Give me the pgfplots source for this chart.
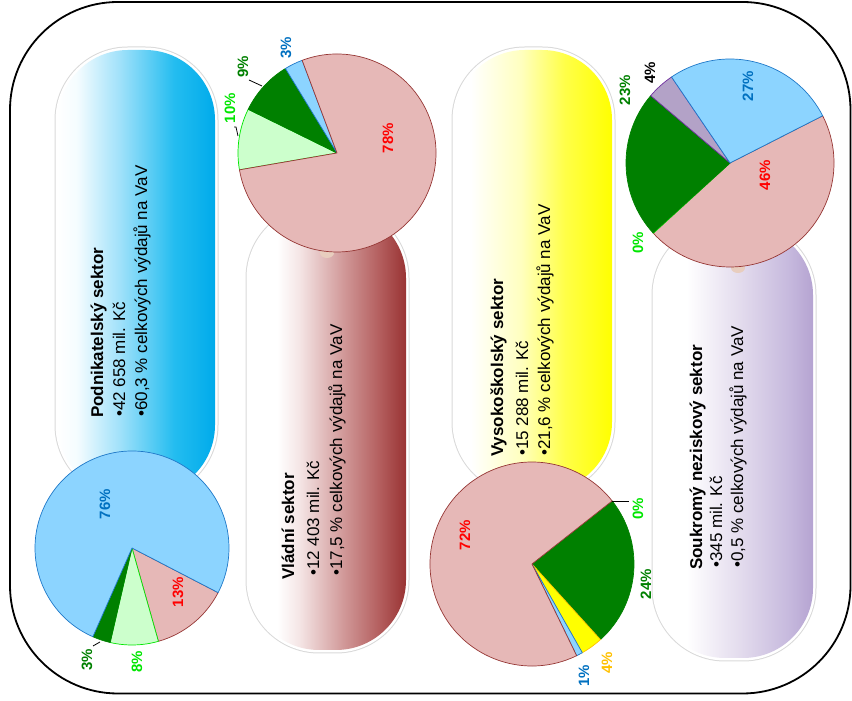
\documentclass[border=0pt]{standalone}
\usepackage{fontspec}
\setmainfont{Liberation Sans}
\usepackage{pgfplots}
\pgfplotsset{compat=1.18}

% slice colours
\definecolor{pinkF}{RGB}{230,184,183}
\definecolor{pinkE}{RGB}{150,55,53}
\definecolor{lgreenF}{RGB}{204,255,204}
\definecolor{lgreenE}{RGB}{0,230,0}
\definecolor{dgreenF}{RGB}{0,128,0}
\definecolor{lblueF}{RGB}{140,212,255}
\definecolor{lblueE}{RGB}{30,120,200}
\definecolor{yelF}{RGB}{255,255,0}
\definecolor{yelE}{RGB}{255,192,0}
\definecolor{purF}{RGB}{179,162,199}
\definecolor{purE}{RGB}{112,48,160}
\definecolor{knob}{RGB}{232,205,190}
% label colours
\definecolor{blueT}{RGB}{0,112,192}
\definecolor{lgreenT}{RGB}{0,230,0}

% pill gradients (white on the left)
\pgfdeclarehorizontalshading{pillblue}{100bp}{rgb(0bp)=(1,1,1); rgb(25bp)=(1,1,1); rgb(31bp)=(0.96,0.99,1); rgb(45bp)=(0.62,0.88,0.98); rgb(62bp)=(0.14,0.74,0.94); rgb(75bp)=(0,0.67,0.92); rgb(100bp)=(0,0.67,0.92)}
\pgfdeclarehorizontalshading{pillred}{100bp}{rgb(0bp)=(1,1,1); rgb(34bp)=(1,1,1); rgb(41bp)=(0.96,0.9,0.9); rgb(55bp)=(0.82,0.6,0.6); rgb(67bp)=(0.7,0.36,0.36); rgb(75bp)=(0.6,0.2,0.2); rgb(100bp)=(0.6,0.2,0.2)}
\pgfdeclarehorizontalshading{pillyellow}{100bp}{rgb(0bp)=(1,1,1); rgb(30bp)=(1,1,1); rgb(46bp)=(1,1,0.75); rgb(60bp)=(1,1,0.28); rgb(75bp)=(1,1,0); rgb(100bp)=(1,1,0)}
\pgfdeclarehorizontalshading{pillpurple}{100bp}{rgb(0bp)=(1,1,1); rgb(35bp)=(1,1,1); rgb(52bp)=(0.89,0.86,0.93); rgb(67bp)=(0.78,0.73,0.87); rgb(75bp)=(0.71,0.64,0.82); rgb(100bp)=(0.71,0.64,0.82)}

% #1 x1, #2 y1, #3 x2, #4 y2 (pixels, y down), #5 shading
\newcommand{\pill}[5]{%
  \draw[black!15, line width=7pt, rounded corners=70pt] (#1,-#2) rectangle (#3,-#4);
  \draw[white, line width=5pt, rounded corners=70pt] (#1,-#2) rectangle (#3,-#4);
  \shade[shading=#5, rounded corners=70pt] (#1,-#2) rectangle (#3,-#4);}

% one wedge: #1,#2 centre (px), #3 radius, #4 start angle,
% #5 share before it, #6 share (%), #7 fill, #8 edge
\newcommand{\slice}[8]{%
  \filldraw[fill=#7, draw=#8, line width=0.7pt, line join=round]
    (axis cs:#1,-#2) -- ++({#4-3.6*#5}:#3pt)
    arc[start angle={#4-3.6*#5}, delta angle={-3.6*#6}, radius=#3pt] -- cycle;}

\newcommand{\txt}[3]{\node[rotate=90, anchor=base west, inner sep=0pt,
  font=\fontsize{17}{20}\selectfont] at (axis cs:#1,-#2) {#3};}
\newcommand{\lab}[4]{\node[rotate=90, text=#3, inner sep=0pt,
  font=\fontsize{15}{17}\selectfont\bfseries] at (axis cs:#1,-#2) {#4};}

\begin{document}
\begin{tikzpicture}[x=1pt, y=1pt]
\useasboundingbox (0,0) rectangle (852,701);
\begin{axis}[at={(0,0)}, anchor=south west, hide axis, scale only axis,
  width=852pt, height=701pt, xmin=0, xmax=852, ymin=-701, ymax=0, clip=false]

% frame
\draw[line width=1.8pt, rounded corners=108pt] (axis cs:10,-2) rectangle (axis cs:850.5,-693.5);

% sector pills
\pill{58}{50}{215}{495}{pillblue}
\pill{249}{208}{406}{650}{pillred}
\pill{455}{50}{612}{492}{pillyellow}
\pill{655}{225}{813}{658}{pillpurple}
\fill[knob] (axis cs:327,-253) ellipse [x radius=7pt, y radius=5pt];
\fill[knob] (axis cs:738,-268) ellipse [x radius=7pt, y radius=5pt];

\txt{103}{418}{\bfseries Podnikatelský sektor}
\txt{125}{417}{•42 658 mil. Kč}
\txt{147}{417}{•60,3 \% celkových výdajů na VaV}

\txt{294}{580}{\bfseries Vládní sektor}
\txt{319}{576}{•12 403 mil. Kč}
\txt{342}{576}{•17,5 \% celkových výdajů na VaV}

\txt{503}{457}{\bfseries Vysokoškolský sektor}
\txt{528}{456}{•15 288 mil. Kč}
\txt{550}{456}{•21,6 \% celkových výdajů na VaV}

\txt{702}{570}{\bfseries Soukromý neziskový sektor}
\txt{722}{568}{•345 mil. Kč}
\txt{743}{568}{•0,5 \% celkových výdajů na VaV}

% Podnikatelský sektor: shares of funding (%)
\slice{132}{548}{97}{-27.4}{0}{13}{pinkF}{pinkE}
\slice{132}{548}{97}{-27.4}{13}{8}{lgreenF}{lgreenE}
\slice{132}{548}{97}{-27.4}{21}{3}{dgreenF}{dgreenF}
\slice{132}{548}{97}{-27.4}{24}{76}{lblueF}{lblueE}

% Vládní sektor
\slice{337}{153}{99}{189.8}{0}{10}{lgreenF}{lgreenE}
\slice{337}{153}{99}{189.8}{10}{9}{dgreenF}{dgreenF}
\slice{337}{153}{99}{189.8}{19}{3}{lblueF}{lblueE}
\slice{337}{153}{99}{189.8}{22}{78}{pinkF}{pinkE}

% Vysokoškolský sektor
\slice{532}{564}{102}{38.2}{0}{0.1}{lgreenF}{lgreenE}
\slice{532}{564}{102}{38.2}{0.1}{23.8}{dgreenF}{dgreenF}
\slice{532}{564}{102}{38.2}{23.9}{3.5}{yelF}{yelE}
\slice{532}{564}{102}{38.2}{27.4}{1.0}{lblueF}{lblueE}
\slice{532}{564}{102}{38.2}{28.4}{71.6}{pinkF}{pinkE}

% Soukromý neziskový sektor
\slice{730}{163}{104}{27}{0}{45.7}{pinkF}{pinkE}
\slice{730}{163}{104}{27}{45.7}{0.1}{lgreenF}{lgreenE}
\slice{730}{163}{104}{27}{45.8}{22.9}{dgreenF}{dgreenF}
\slice{730}{163}{104}{27}{68.7}{4.3}{purF}{purE}
\slice{730}{163}{104}{27}{73.0}{27.0}{lblueF}{lblueE}

% leader lines
\draw[line width=0.8pt] (axis cs:93,-646) -- (axis cs:100,-642);
\draw[line width=0.8pt] (axis cs:249,-80) -- (axis cs:262,-86);
\draw[line width=0.8pt] (axis cs:234,-127) -- (axis cs:236,-127) -- (axis cs:238,-136);
\draw[line width=0.8pt] (axis cs:612,-501) -- (axis cs:629,-501);

% percentage labels
\lab{105}{504}{blueT}{76\%}
\lab{178}{592}{red}{13\%}
\lab{137}{662}{lgreenT}{8\%}
\lab{87}{660}{dgreenF}{3\%}

\lab{388}{138}{red}{78\%}
\lab{286}{48}{blueT}{3\%}
\lab{243}{67}{dgreenF}{9\%}
\lab{230}{108}{lgreenT}{10\%}

\lab{465}{535}{red}{72\%}
\lab{638}{509}{lgreenT}{0\%}
\lab{646}{584}{dgreenF}{24\%}
\lab{607}{663}{yelE}{4\%}
\lab{584}{676}{blueT}{1\%}

\lab{748}{86}{blueT}{27\%}
\lab{765}{175}{red}{46\%}
\lab{650}{73}{black}{4\%}
\lab{625}{90}{dgreenF}{23\%}
\lab{638}{243}{lgreenT}{0\%}
\end{axis}
\end{tikzpicture}
\end{document}
